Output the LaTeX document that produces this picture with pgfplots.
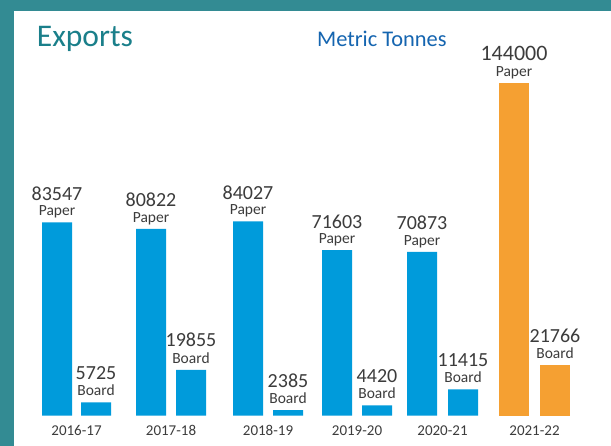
\documentclass[border=0pt]{standalone}
\usepackage{pgfplots}
\pgfplotsset{compat=1.18}
\usepackage{fontspec}
\setmainfont{Carlito}
\definecolor{frame}{RGB}{51,139,147}
\definecolor{titlec}{RGB}{26,127,138}
\definecolor{unitc}{RGB}{21,101,176}
\definecolor{barblue}{RGB}{0,155,219}
\definecolor{barorange}{RGB}{245,160,50}
\definecolor{txt}{RGB}{60,60,60}
\newcommand\twolab[3]{\vbox{\offinterlineskip\halign{\hfil##\hfil\cr
  \fontsize{#3}{#3}\selectfont #1\cr\noalign{\kern 5.5pt}
  \fontsize{15.5}{15.5}\selectfont #2\cr}}}
\begin{document}
\begin{tikzpicture}
\fill[frame] (0pt,0pt) rectangle (611pt,446pt);
\fill[white] (14pt,0pt) rectangle (611pt,435pt);
\node[anchor=base west, inner sep=0pt, text=titlec, font=\fontsize{31.5}{31.5}\selectfont] at (36.7pt,399.3pt) {Exports};
\node[anchor=base west, inner sep=0pt, text=unitc, font=\fontsize{22.4}{22.4}\selectfont] at (317pt,399pt) {Metric Tonnes};
\begin{axis}[
  at={(0pt,30.3pt)}, anchor=south west,
  scale only axis, width=611pt, height=370pt,
  xmin=0, xmax=611, ymin=0, ymax=160000,
  clip=false,
  axis y line=none,
  axis x line*=bottom,
  x axis line style={draw=none},
  xtick={76.5,171,268,357,442.5,534.5},
  xticklabels={2016-17,2017-18,2018-19,2019-20,2020-21,2021-22},
  xtick style={draw=none},
  major tick length=0pt,
  xticklabel style={anchor=base, yshift=-20pt, inner sep=0pt, text=txt, font=\fontsize{15}{15}\selectfont},
  /pgf/number format/.cd, fixed, precision=0, 1000 sep={}, assume math mode=true,
  /pgfplots/.cd,
  every node near coord/.append style={anchor=base, inner sep=0pt, yshift=6.5pt, text=txt},
]
\addplot[ybar, bar width=30pt, bar shift=0pt, fill=barblue, draw=none,
  nodes near coords={\twolab{\pgfmathprintnumber{\pgfplotspointmeta}}{Paper}{20}}]
  coordinates {(57,83547) (151,80822) (248,84027) (337,71603) (422,70873)};
\addplot[ybar, bar width=30pt, bar shift=0pt, fill=barblue, draw=none,
  nodes near coords={\twolab{\pgfmathprintnumber{\pgfplotspointmeta}}{Board}{20}}]
  coordinates {(96,5725) (191,19855) (288,2385) (377,4420) (463,11415)};
\addplot[ybar, bar width=30pt, bar shift=0pt, fill=barorange, draw=none,
  nodes near coords={\twolab{\pgfmathprintnumber{\pgfplotspointmeta}}{Paper}{22}}]
  coordinates {(514,144000)};
\addplot[ybar, bar width=30pt, bar shift=0pt, fill=barorange, draw=none,
  nodes near coords={\twolab{\pgfmathprintnumber{\pgfplotspointmeta}}{Board}{20}}]
  coordinates {(555,21766)};
\end{axis}
\end{tikzpicture}
\end{document}
